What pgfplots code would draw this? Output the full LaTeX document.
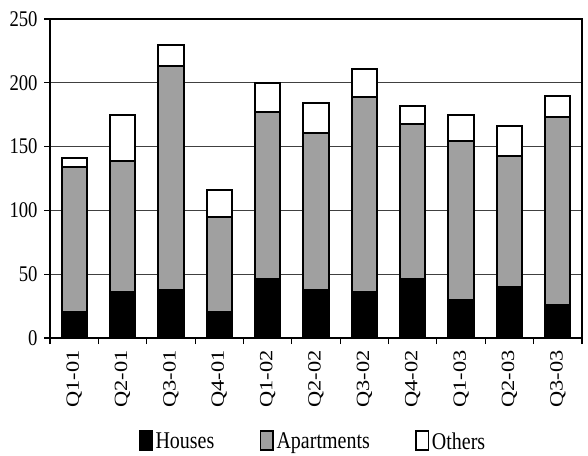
\documentclass[border=0pt]{standalone}
\usepackage{fontspec}
\setmainfont{Liberation Serif}
\usepackage{pgfplots}
\pgfplotsset{compat=1.18}
\definecolor{aptgray}{RGB}{160,160,160}
\newcommand{\vlab}[1]{\scalebox{1.2}[1]{#1}}
\newcommand{\hlab}[1]{\scalebox{1}[1.2]{#1}}
\begin{document}
\fontsize{14}{17}\selectfont
\begin{tikzpicture}
\begin{axis}[
    at={(0,0)}, anchor=south west,
    scale only axis,
    width=399pt, height=239.25pt,
    ybar stacked,
    bar width=19pt,
    xmin=-0.5, xmax=10.5,
    ymin=0, ymax=250,
    ytick={0,50,...,250},
    yticklabel={\hlab{\pgfmathprintnumber{\tick}}},
    xtick={0,...,10},
    xticklabels={\vlab{Q1-01},\vlab{Q2-01},\vlab{Q3-01},\vlab{Q4-01},\vlab{Q1-02},\vlab{Q2-02},\vlab{Q3-02},\vlab{Q4-02},\vlab{Q1-03},\vlab{Q2-03},\vlab{Q3-03}},
    x tick label style={rotate=90, anchor=east, font=\fontsize{14}{17}\selectfont},
    y tick label style={font=\fontsize{14}{17}\selectfont},
    /pgf/number format/assume math mode=true,
    major x tick style={draw=none},
    minor xtick={-0.5,0.5,...,10.5},
    tick align=outside,
    tick style={black, line width=0.8pt},
    major tick length=4.5pt,
    minor tick length=4.5pt,
    ymajorgrids,
    grid style={black!75, line width=0.6pt},
    axis line style={line width=1.2pt},
    xtick pos=bottom, ytick pos=left,
    legend style={at={(0.495,-0.283)}, anchor=north, draw=none, legend columns=-1,
        font=\fontsize{15}{18}\selectfont, inner sep=1pt,
        /tikz/every even column/.append style={column sep=32pt}},
    legend image code/.code={\draw[#1, line width=1.2pt] (0cm,-0.2cm) rectangle (0.33cm,0.3cm);},
]
\addplot[fill=black, draw=black, line width=1.5pt] coordinates
  {(0,20) (1,36) (2,38) (3,20) (4,46) (5,38) (6,36) (7,46) (8,30) (9,40) (10,26)};
\addplot[fill=aptgray, draw=black, line width=1.5pt] coordinates
  {(0,114) (1,103) (2,175) (3,75) (4,131) (5,123) (6,153) (7,122) (8,124) (9,103) (10,147)};
\addplot[fill=white, draw=black, line width=1.5pt] coordinates
  {(0,7) (1,36) (2,17) (3,21) (4,23) (5,23) (6,22) (7,14) (8,21) (9,23) (10,17)};
\legend{\hlab{Houses}, \hlab{Apartments}, \hlab{Others}}
\end{axis}
\pgfresetboundingbox
\path (-37.5pt,-88.5pt) rectangle (403.5pt,253.5pt);
\end{tikzpicture}
\end{document}
